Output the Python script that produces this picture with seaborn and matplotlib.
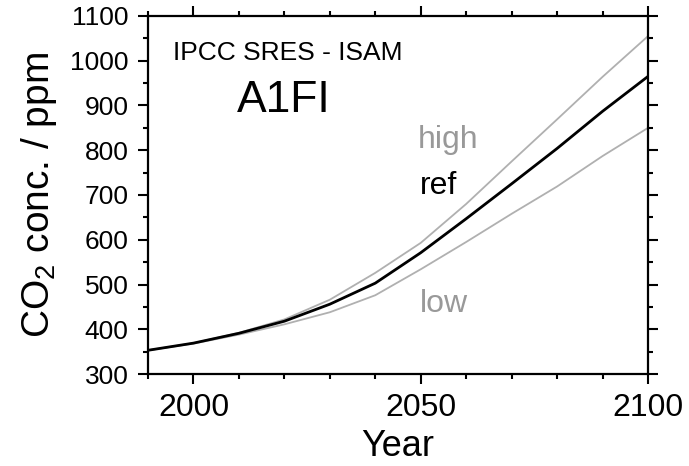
import numpy as np
import pandas as pd
import matplotlib
matplotlib.use('Agg')
import matplotlib.pyplot as plt
import seaborn as sns
from matplotlib.ticker import MultipleLocator

# --- data (ppm) ---
years = [1990, 2000, 2010, 2020, 2030, 2040, 2050, 2060, 2070, 2080, 2090, 2100]
co2_ref = [353, 369, 391, 418, 456, 503, 571, 647, 725, 804, 887, 965]
co2_high = [353, 369, 392, 422, 466, 526, 593, 680, 775, 869, 964, 1055]
co2_low = [353, 368, 388, 411, 438, 476, 534, 595, 658, 719, 787, 850]

df = pd.DataFrame({'Year': years, 'ref': co2_ref, 'high': co2_high, 'low': co2_low})

sns.set_theme(style="ticks")
plt.rcParams['font.family'] = ['Liberation Sans', 'DejaVu Sans']
plt.rcParams['mathtext.default'] = 'regular'
plt.rcParams['text.color'] = 'black'
plt.rcParams['axes.labelcolor'] = 'black'
plt.rcParams['xtick.color'] = 'black'
plt.rcParams['ytick.color'] = 'black'

fig = plt.figure(figsize=(6.89, 4.66), dpi=100)
ax = fig.add_axes([0.2148, 0.1974, 0.7257, 0.7683])

sns.lineplot(data=df, x='Year', y='high', ax=ax, color='#b0b0b0', linewidth=1.3)
sns.lineplot(data=df, x='Year', y='low', ax=ax, color='#b0b0b0', linewidth=1.3)
sns.lineplot(data=df, x='Year', y='ref', ax=ax, color='black', linewidth=2.0)

ax.set_xlim(1990, 2100)
ax.set_ylim(300, 1100)
ax.xaxis.set_major_locator(MultipleLocator(50))
ax.xaxis.set_minor_locator(MultipleLocator(10))
ax.yaxis.set_major_locator(MultipleLocator(100))
ax.yaxis.set_minor_locator(MultipleLocator(50))

for s in ax.spines.values():
    s.set_linewidth(1.6)
    s.set_color('black')

ax.tick_params(which='both', direction='out', top=True, right=True, width=1.5, color='black')
ax.tick_params(which='major', length=7)
ax.tick_params(which='minor', length=3.5)
ax.tick_params(axis='x', labelsize=23, pad=7)
ax.tick_params(axis='y', labelsize=19, pad=7)

ax.set_xlabel('Year', fontsize=26, labelpad=4)
ax.set_ylabel(r'CO$_2$ conc. / ppm', fontsize=28, labelpad=8)

# annotations
ax.text(0.05, 0.877, 'IPCC SRES - ISAM', transform=ax.transAxes, fontsize=19, va='baseline', ha='left')
ax.text(0.178, 0.732, 'A1FI', transform=ax.transAxes, fontsize=32, va='baseline', ha='left')
ax.text(0.54, 0.631, 'high', transform=ax.transAxes, fontsize=23, va='baseline', ha='left', color='#999999')
ax.text(0.544, 0.503, 'ref', transform=ax.transAxes, fontsize=23, va='baseline', ha='left', color='black')
ax.text(0.544, 0.173, 'low', transform=ax.transAxes, fontsize=23, va='baseline', ha='left', color='#999999')

plt.savefig('out.png', dpi=100)
